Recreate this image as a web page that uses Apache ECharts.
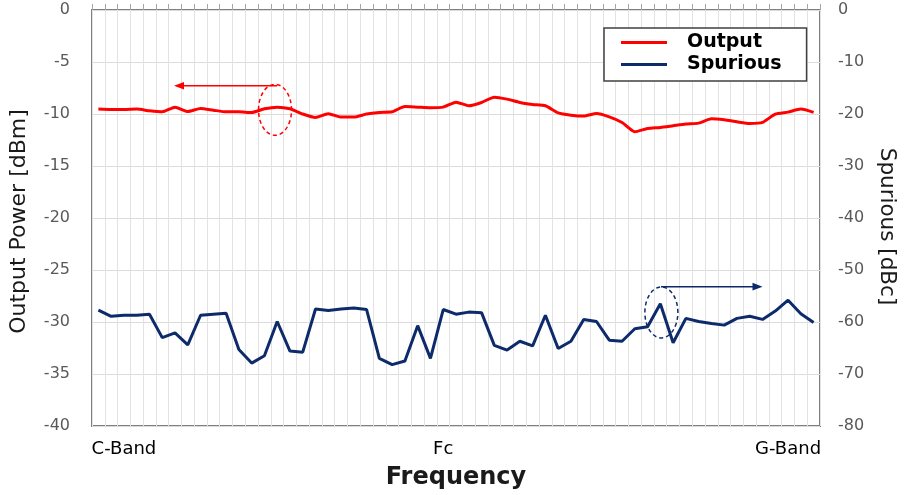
<!DOCTYPE html>
<html><head><meta charset="utf-8">
<script src="https://cdn.jsdelivr.net/npm/echarts@6/dist/echarts.min.js"></script>
<style>html,body{margin:0;padding:0;background:#fff}#c{width:906px;height:495px}</style>
</head><body><div id="c"></div>
<script>
// Category labels (57 frequency points; only three are labelled)
const freqCategories = [
  '', '', 'C-Band', '', '', '', '', '', '', '', '', '', '', '', '', '', '', '', '', '',
  '', '', '', '', '', '', '', 'Fc', '', '', '', '', '', '', '', '', '', '', '', '',
  '', '', '', '', '', '', '', '', '', '', '', '', '', '', 'G-Band', '', ''
];
// Output power [dBm] (left axis)
const outputPower = [
  -9.53, -9.57, -9.57, -9.53, -9.69, -9.79, -9.34, -9.76, -9.47, -9.63,
  -9.79, -9.79, -9.85, -9.50, -9.34, -9.50, -10.00, -10.33, -9.98, -10.30,
  -10.30, -10.00, -9.85, -9.79, -9.28, -9.34, -9.40, -9.34, -8.86, -9.21,
  -8.89, -8.38, -8.57, -8.89, -9.08, -9.21, -9.89, -10.11, -10.20, -9.95,
  -10.27, -10.81, -11.71, -11.39, -11.29, -11.13, -10.97, -10.88, -10.46, -10.56,
  -10.75, -10.91, -10.81, -10.01, -9.82, -9.53, -9.85
];
// Spurious [dBc] (right axis)
const spurious = [
  -57.7, -58.9, -58.7, -58.7, -58.5, -63.0, -62.1, -64.4, -58.7, -58.5,
  -58.3, -65.3, -67.9, -66.5, -59.9, -65.6, -65.8, -57.5, -57.8, -57.5,
  -57.3, -57.6, -67.0, -68.2, -67.5, -60.7, -67.0, -57.6, -58.5, -58.1,
  -58.2, -64.5, -65.4, -63.7, -64.6, -58.7, -65.1, -63.7, -59.5, -59.9,
  -63.5, -63.7, -61.3, -60.9, -56.5, -64.0, -59.3, -59.9, -60.3, -60.6,
  -59.3, -58.9, -59.5, -57.9, -55.8, -58.4, -60.1
];
const seriesNames = ['Output', 'Spurious'];
const axisNames = ['Frequency', 'Output Power [dBm]', 'Spurious [dBc]'];
// Annotation anchors in data units: [category index, value]
const redNote = { center: [13.83, -9.6], from: [14.0, -7.29], to: [5.92, -7.29] };
const blueNote = { center: [44.08, -58.16], from: [44.05, -53.2], to: [52.0, -53.2] };

const FONT = 'DejaVu Sans';
const RED = '#ff0000';
const NAVY = '#0d2b6b';

const chart = echarts.init(document.getElementById('c'));
chart.setOption({
  animation: false,
  backgroundColor: '#ffffff',
  grid: { left: 89, right: 81, top: 10, bottom: 68.5, show: true, borderColor: '#7f7f7f', borderWidth: 2, backgroundColor: 'transparent' },
  legend: {
    data: seriesNames.map(n => ({ name: n, icon: 'rect' })),
    orient: 'vertical',
    left: 604, top: 28,
    backgroundColor: '#ffffff',
    borderColor: '#404040', borderWidth: 1.5,
    padding: [3.5, 25, 5.5, 17],
    itemWidth: 46, itemHeight: 3, itemGap: 0,
    textStyle: { fontFamily: FONT, fontSize: 19, fontWeight: 'bold', color: '#000', lineHeight: 22, padding: [0, 0, 0, 15] }
  },
  xAxis: {
    type: 'category', data: freqCategories, boundaryGap: true,
    name: axisNames[0], nameLocation: 'middle', nameGap: 40,
    nameTextStyle: { fontFamily: FONT, fontSize: 24, fontWeight: 'bold', color: '#1a1a1a' },
    axisLine: { show: false },
    axisTick: { show: true, inside: true, length: 6, interval: 0, lineStyle: { color: '#a6a6a6' } },
    axisLabel: { interval: 0, margin: 14, fontFamily: FONT, fontSize: 18, color: '#000',
      formatter: v => v },
    splitLine: { show: true, interval: 0, lineStyle: { color: '#e3e3e3', width: 1 } }
  },
  yAxis: [
    {
      type: 'value', min: -40, max: 0, interval: 5,
      name: axisNames[1], nameLocation: 'middle', nameGap: 62, nameRotate: 90,
      nameTextStyle: { fontFamily: FONT, fontSize: 22, color: '#1a1a1a', padding: [0, 7, 0, 0] },
      axisLine: { show: false }, axisTick: { show: false },
      axisLabel: { margin: 22, fontFamily: FONT, fontSize: 16, color: '#595959' },
      splitLine: { show: true, lineStyle: { color: '#dcdcdc', width: 1 } }
    },
    {
      type: 'value', min: -80, max: 0, interval: 10,
      name: axisNames[2], nameLocation: 'middle', nameGap: 56, nameRotate: -90,
      nameTextStyle: { fontFamily: FONT, fontSize: 21.5, color: '#1a1a1a', padding: [0, 0, 0, 17] },
      axisLine: { show: false }, axisTick: { show: false },
      axisLabel: { margin: 18, fontFamily: FONT, fontSize: 16, color: '#595959' },
      splitLine: { show: false }
    }
  ],
  series: [
    { name: seriesNames[0], type: 'line', yAxisIndex: 0, data: outputPower, symbol: 'none', smooth: 0.2,
      lineStyle: { color: RED, width: 3 }, itemStyle: { color: RED } },
    { name: seriesNames[1], type: 'line', yAxisIndex: 1, data: spurious, symbol: 'none',
      lineStyle: { color: NAVY, width: 3 }, itemStyle: { color: NAVY } }
  ]
});

function toPx(pt, seriesIndex) {
  const i0 = Math.floor(pt[0]), f = pt[0] - i0;
  const a = chart.convertToPixel({ seriesIndex: seriesIndex }, [i0, pt[1]]);
  const b = chart.convertToPixel({ seriesIndex: seriesIndex }, [i0 + 1, pt[1]]);
  return [a[0] + (b[0] - a[0]) * f, a[1]];
}
function noteGraphics(note, seriesIndex, color) {
  const c = toPx(note.center, seriesIndex);
  const p1 = toPx(note.from, seriesIndex);
  const p2 = toPx(note.to, seriesIndex);
  const dir = p2[0] < p1[0] ? -1 : 1;
  const headLen = 10, headHalf = 3.8;
  return [
    { type: 'ellipse', shape: { cx: c[0], cy: c[1], rx: 16.5, ry: 25.5 }, style: { fill: 'none', stroke: color, lineWidth: 1.5, lineDash: [4, 3] }, z: 100 },
    { type: 'line', shape: { x1: p1[0], y1: p1[1], x2: p2[0] - dir * (headLen - 2), y2: p2[1] }, style: { stroke: color, lineWidth: 1.5 }, z: 100 },
    { type: 'polygon', shape: { points: [[p2[0], p2[1]], [p2[0] - dir * headLen, p2[1] - headHalf], [p2[0] - dir * headLen, p2[1] + headHalf]] }, style: { fill: color }, z: 100 }
  ];
}
chart.setOption({ graphic: noteGraphics(redNote, 0, RED).concat(noteGraphics(blueNote, 1, NAVY)) });
</script>
</body></html>
